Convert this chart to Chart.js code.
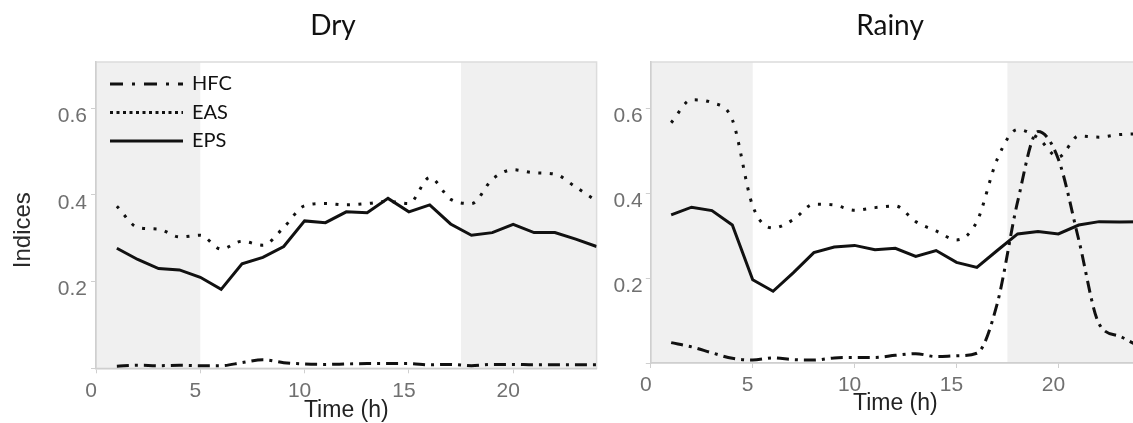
<!DOCTYPE html>
<html>
<head>
<meta charset="utf-8">
<title>Indices by hour</title>
<script src="https://cdn.jsdelivr.net/npm/chart.js@4.4.1/dist/chart.umd.min.js"></script>
<style>
    body {
        margin: 0;
        width: 1133px;
        height: 423px;
        overflow: hidden;
        background: #fff;
        position: relative;
    }
    .panel {
        position: absolute;
        top: 0;
    }
    .ttl {
        position: absolute;
        top: 6px;
        width: 200px;
        text-align: center;
        font-family: Lato, "Noto Sans", sans-serif;
        font-size: 28px;
        line-height: 36px;
        color: #111;
    }
</style>
</head>
<body>
<div class="panel" style="left:0"><canvas id="dryChart" width="600" height="423"></canvas></div>
<div class="panel" style="left:600px"><canvas id="rainyChart" width="542" height="423"></canvas></div>
<div class="ttl" style="left:233px">Dry</div>
<div class="ttl" style="left:790px">Rainy</div>

<script>
// hour of day
const hours = [1, 2, 3, 4, 5, 6, 7, 8, 9, 10, 11, 12, 13, 14, 15, 16, 17, 18, 19, 20, 21, 22, 23, 24];

// dry season
const dryHFC = [0.005, 0.007, 0.006, 0.007, 0.006, 0.006, 0.013, 0.020, 0.013, 0.010, 0.009, 0.010,
                0.011, 0.011, 0.011, 0.008, 0.009, 0.006, 0.009, 0.009, 0.008, 0.008, 0.008, 0.008];
const dryEAS = [0.374, 0.325, 0.321, 0.303, 0.307, 0.275, 0.293, 0.284, 0.325, 0.375, 0.380, 0.377,
                0.380, 0.385, 0.380, 0.440, 0.390, 0.380, 0.436, 0.458, 0.451, 0.448, 0.418, 0.386];
const dryEPS = [0.277, 0.251, 0.230, 0.227, 0.210, 0.182, 0.241, 0.256, 0.281, 0.340, 0.336, 0.361,
                0.359, 0.392, 0.361, 0.377, 0.333, 0.307, 0.313, 0.332, 0.313, 0.313, 0.298, 0.281];

// rainy season
const rainyHFC = [0.048, 0.038, 0.024, 0.011, 0.007, 0.012, 0.008, 0.007, 0.012, 0.013, 0.013, 0.018,
                  0.022, 0.015, 0.017, 0.023, 0.140, 0.380, 0.545, 0.480, 0.290, 0.092, 0.063, 0.038];
const rainyEAS = [0.566, 0.620, 0.613, 0.573, 0.370, 0.318, 0.338, 0.374, 0.372, 0.360, 0.366, 0.370,
                  0.333, 0.311, 0.290, 0.333, 0.480, 0.550, 0.530, 0.485, 0.535, 0.532, 0.538, 0.540];
const rainyEPS = [0.349, 0.367, 0.359, 0.325, 0.196, 0.169, 0.213, 0.260, 0.273, 0.277, 0.267, 0.270,
                  0.251, 0.265, 0.237, 0.225, 0.265, 0.304, 0.310, 0.304, 0.325, 0.333, 0.332, 0.333];

// night-time periods (shaded)
const nightHours = [[0, 5], [17.5, 24]];

const xTicks = [0, 5, 10, 15, 20];
const yTicks = [0, 0.2, 0.4, 0.6];
const seriesNames = ["HFC", "EAS", "EPS"];

const sansFamily = "'Liberation Sans', Arial, sans-serif";
const tickFont = { family: sansFamily, size: 21 };
const tickColor = "#707070";
const axisGrey = "#cfcfcf";

// grey bands behind the lines plus the plot frame
const nightShade = {
    id: "nightShade",
    beforeDraw(chart, args, opts) {
        const { ctx, chartArea: a, scales: { x } } = chart;
        ctx.save();
        ctx.fillStyle = opts.color;
        opts.periods.forEach(([from, to]) => {
            const x0 = Math.max(x.getPixelForValue(from), a.left);
            const x1 = Math.min(x.getPixelForValue(to), a.right);
            ctx.fillRect(x0, a.top, x1 - x0, a.bottom - a.top);
        });
        ctx.strokeStyle = opts.borderColor;
        ctx.lineWidth = 1.5;
        ctx.strokeRect(a.left, a.top, a.right - a.left, a.bottom - a.top);
        ctx.restore();
    },
};

// rotated y caption, sitting a little below the middle of the plot
const sideCaption = {
    id: "sideCaption",
    afterDraw(chart, args, opts) {
        if (!opts.text) return;
        const { ctx, chartArea: a } = chart;
        ctx.save();
        ctx.translate(opts.x, (a.top + a.bottom) / 2 + opts.shift);
        ctx.rotate(-Math.PI / 2);
        ctx.font = opts.font;
        ctx.fillStyle = opts.color;
        ctx.textAlign = "center";
        ctx.textBaseline = "middle";
        ctx.fillText(opts.text, 0, 0);
        ctx.restore();
    },
};

// legend drawn inside the plot, one line sample per series
const lineLegend = {
    id: "lineLegend",
    afterDatasetsDraw(chart, args, opts) {
        if (!opts.display) return;
        const ctx = chart.ctx;
        ctx.save();
        chart.data.datasets.forEach((ds, i) => {
            const y = opts.y + i * opts.rowGap;
            ctx.beginPath();
            ctx.setLineDash(ds.legendDash || []);
            ctx.lineWidth = ds.borderWidth;
            ctx.strokeStyle = ds.borderColor;
            ctx.lineCap = "butt";
            ctx.moveTo(opts.x, y);
            ctx.lineTo(opts.x + opts.lineLength, y);
            ctx.stroke();
            ctx.setLineDash([]);
            ctx.fillStyle = opts.color;
            ctx.font = opts.font;
            ctx.textBaseline = "middle";
            ctx.fillText(ds.label, opts.x + opts.lineLength + opts.gap, y);
        });
        ctx.restore();
    },
};

function makeDatasets(hfc, eas, eps) {
    const pts = (vals) => hours.map((h, i) => ({ x: h, y: vals[i] }));
    return [
        {
            label: seriesNames[0],
            data: pts(hfc),
            borderColor: "#111",
            borderWidth: 3,
            borderDash: [12, 6, 3, 6],
            legendDash: [13, 9, 3, 9],
            cubicInterpolationMode: "monotone",
        },
        {
            label: seriesNames[1],
            data: pts(eas),
            borderColor: "#111",
            borderWidth: 3,
            borderDash: [3, 8.5],
            legendDash: [3, 3.5],
            cubicInterpolationMode: "monotone",
        },
        {
            label: seriesNames[2],
            data: pts(eps),
            borderColor: "#111",
            borderWidth: 3,
            tension: 0,
        },
    ];
}

function makeChart(id, datasets, cfg) {
    return new Chart(document.getElementById(id), {
        type: "line",
        data: { datasets },
        plugins: [nightShade, lineLegend, sideCaption],
        options: {
            responsive: false,
            animation: false,
            devicePixelRatio: 1,
            layout: { padding: { top: 62, right: cfg.padRight, left: 0, bottom: 0 } },
            elements: { point: { radius: 0 } },
            plugins: {
                legend: { display: false },
                tooltip: { enabled: false },
                nightShade: { periods: nightHours, color: "#f0f0f0", borderColor: "#dcdcdc" },
                lineLegend: {
                    display: cfg.legend,
                    x: 110, y: 84, rowGap: 28.5, lineLength: 73, gap: 9,
                    font: "20px Lato, 'Noto Sans', sans-serif",
                    color: "#111",
                },
                sideCaption: {
                    text: cfg.yTitle,
                    x: 23,
                    shift: 15,
                    font: "24px " + sansFamily,
                    color: "#2a2a2a",
                },
            },
            scales: {
                x: {
                    type: "linear",
                    min: 0,
                    max: 24,
                    afterBuildTicks: (s) => { s.ticks = xTicks.map((v) => ({ value: v })); },
                    afterFit: (s) => { s.height = cfg.xHeight; },
                    grid: { drawOnChartArea: false, tickLength: 5, color: axisGrey },
                    border: { color: axisGrey, width: 1.5 },
                    ticks: { font: tickFont, color: tickColor, padding: 5, labelOffset: -5, maxRotation: 0 },
                    title: {
                        display: true,
                        text: "Time (h)",
                        color: "#222",
                        font: { family: sansFamily, size: 23, lineHeight: 1 },
                        padding: { top: 0, bottom: cfg.titleBottom },
                    },
                },
                y: {
                    min: 0,
                    max: cfg.yMax,
                    afterBuildTicks: (s) => { s.ticks = yTicks.map((v) => ({ value: v })); },
                    afterFit: (s) => { s.width = cfg.yWidth; },
                    grid: { drawOnChartArea: false, tickLength: 5, color: axisGrey },
                    border: { color: axisGrey, width: 1.5 },
                    ticks: {
                        font: tickFont,
                        color: tickColor,
                        padding: cfg.yPad,
                        labelOffset: 8,
                        callback: (v) => (v === 0 ? "" : v.toFixed(1)),
                    },
                },
            },
        },
    });
}

makeChart("dryChart", makeDatasets(dryHFC, dryEAS, dryEPS), {
    padRight: 3.4, xHeight: 54.7, yWidth: 96, yMax: 0.7066, yPad: 4,
    titleBottom: 0.5, yTitle: "Indices", legend: true,
});

makeChart("rainyChart", makeDatasets(rainyHFC, rainyEAS, rainyEPS), {
    padRight: 2.1, xHeight: 60, yWidth: 50.8, yMax: 0.709, yPad: 3,
    titleBottom: 7.5, yTitle: "", legend: false,
});
</script>
</body>
</html>
